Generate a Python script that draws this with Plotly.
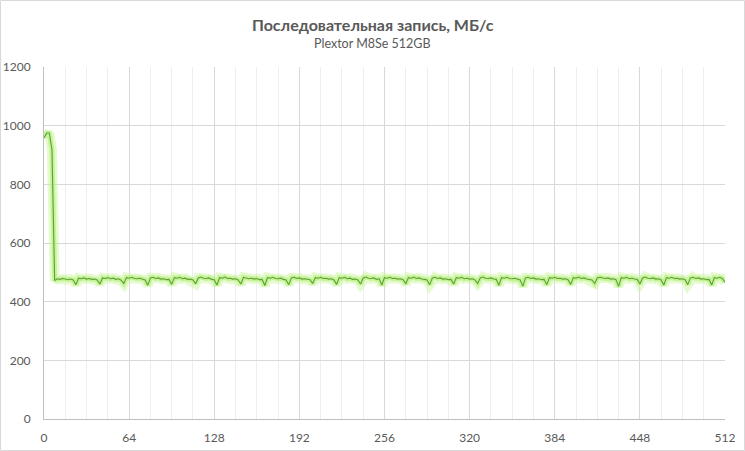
import plotly.graph_objects as go

TITLE = "Последовательная запись, МБ/с"
SUBTITLE = "Plextor M8Se 512GB"

X_STEP = 2
SPEED = [
    958, 975, 975, 918, 472, 478, 476, 479,
    477, 475, 477, 474, 458, 480, 478, 481,
    477, 479, 476, 477, 474, 460, 481, 479,
    482, 478, 480, 476, 478, 473, 462, 482,
    480, 483, 479, 478, 480, 476, 474, 456,
    481, 483, 479, 481, 477, 478, 475, 476,
    459, 482, 480, 483, 478, 480, 476, 477,
    474, 461, 481, 484, 480, 479, 481, 476,
    475, 457, 482, 480, 484, 479, 480, 477,
    478, 474, 460, 483, 481, 478, 480, 477,
    479, 475, 476, 455, 482, 480, 483, 479,
    478, 480, 476, 474, 458, 481, 483, 479,
    481, 477, 478, 476, 475, 462, 482, 480,
    483, 479, 480, 477, 478, 474, 459, 482,
    480, 483, 478, 480, 476, 477, 474, 460,
    481, 484, 480, 479, 481, 476, 478, 457,
    482, 480, 483, 479, 480, 477, 478, 475,
    461, 482, 480, 484, 479, 481, 477, 476,
    474, 458, 481, 483, 479, 481, 477, 478,
    475, 476, 460, 482, 480, 483, 478, 480,
    477, 478, 474, 462, 481, 484, 480, 479,
    481, 477, 476, 456, 482, 480, 483, 479,
    478, 480, 476, 474, 453, 481, 483, 479,
    481, 477, 478, 475, 476, 458, 482, 480,
    483, 479, 480, 477, 478, 475, 459, 482,
    480, 484, 479, 481, 477, 476, 474, 462,
    481, 483, 480, 479, 481, 477, 478, 475,
    452, 482, 480, 483, 478, 480, 477, 476,
    460, 481, 484, 480, 479, 481, 477, 478,
    474, 457, 482, 480, 483, 479, 480, 477,
    478, 475, 458, 481, 483, 479, 481, 477,
    478, 475, 476, 457, 482, 480, 483, 479,
    466,
]
X = [i * X_STEP for i in range(len(SPEED))]

X_TICKS = [0, 64, 128, 192, 256, 320, 384, 448, 512]
Y_TICKS = [0, 200, 400, 600, 800, 1000, 1200]

W, H = 745, 451
ML, MR, MT, MB = 44, 20, 67, 32
PW, PH = W - ML - MR, H - MT - MB

FONT = "Lato, Liberation Sans, Arial"

fig = go.Figure()
# glow layers
fig.add_trace(go.Scatter(x=X, y=SPEED, mode="lines",
                         line=dict(color="rgba(200,245,150,0.45)", width=10),
                         hoverinfo="skip", showlegend=False))
fig.add_trace(go.Scatter(x=X, y=SPEED, mode="lines",
                         line=dict(color="rgba(175,238,115,0.6)", width=5),
                         hoverinfo="skip", showlegend=False))
fig.add_trace(go.Scatter(x=X, y=SPEED, mode="lines",
                         line=dict(color="#5f9f35", width=1.1),
                         showlegend=False))

tick_font = dict(family=FONT, size=12, color="#595959")

fig.update_layout(
    width=W, height=H,
    margin=dict(l=ML, r=MR, t=MT, b=MB, autoexpand=False),
    paper_bgcolor="white", plot_bgcolor="white",
    xaxis=dict(range=[0, 512], tickvals=X_TICKS, ticktext=[str(v) for v in X_TICKS],
               showgrid=True, gridcolor="#d9d9d9", gridwidth=1,
               minor=dict(dtick=16, tick0=0, showgrid=True, gridcolor="#eeeeee", gridwidth=1),
               showline=True, linecolor="#bfbfbf", linewidth=1, automargin=False,
               zeroline=False, ticks="", tickfont=tick_font, ticklabelstandoff=8),
    yaxis=dict(range=[0, 1200], tickvals=Y_TICKS, ticktext=[str(v) for v in Y_TICKS],
               showgrid=True, gridcolor="#d9d9d9", gridwidth=1,
               showline=True, linecolor="#bfbfbf", linewidth=1, automargin=False,
               zeroline=False, ticks="", tickfont=tick_font, ticklabelstandoff=10),
    annotations=[
        dict(text="<b>" + TITLE + "</b>", xref="paper", yref="paper",
             x=(W / 2 - ML) / PW, y=(H - MB - 25) / PH, xanchor="center", yanchor="middle",
             showarrow=False,
             font=dict(family=FONT, size=16, color="#595959")),
        dict(text=SUBTITLE, xref="paper", yref="paper",
             x=(W / 2 - ML) / PW, y=(H - MB - 43) / PH, xanchor="center", yanchor="middle",
             showarrow=False,
             font=dict(family=FONT, size=12.5, color="#595959")),
    ],
    shapes=[dict(type="rect", xref="paper", yref="paper",
                 x0=(0.5 - ML) / PW, x1=(W - 0.5 - ML) / PW,
                 y0=(H - MB - (H - 0.5)) / PH, y1=(H - MB - 0.5) / PH,
                 line=dict(color="#d9d9d9", width=1), layer="below")],
)

fig.write_html("out.html", config={"displayModeBar": False},
               post_script="document.body.style.margin='0';document.body.style.overflow='hidden';")
